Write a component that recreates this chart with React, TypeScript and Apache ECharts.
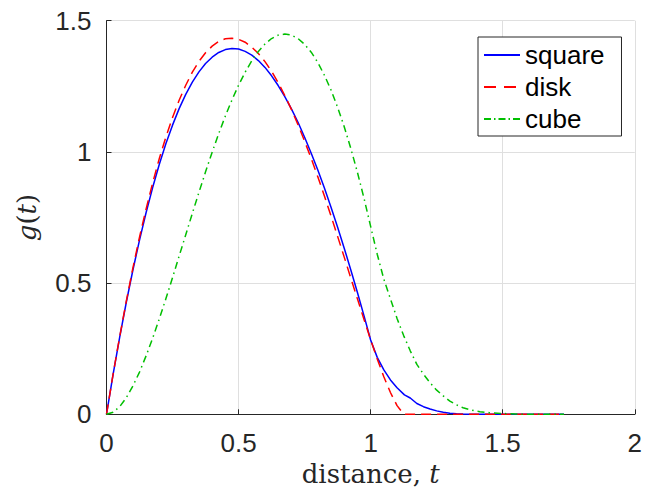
import React, { useEffect, useRef } from "react";
import * as echarts from "echarts";

const tValues = [
  0, 0.025, 0.05, 0.075, 0.1, 0.125, 0.15, 0.175, 0.2, 0.225, 0.25, 0.275, 0.3,
  0.325, 0.35, 0.375, 0.4, 0.425, 0.45, 0.475, 0.5, 0.525, 0.55, 0.575, 0.6,
  0.625, 0.65, 0.675, 0.7, 0.725, 0.75, 0.775, 0.8, 0.825, 0.85, 0.875, 0.9,
  0.925, 0.95, 0.975, 1.0, 1.025, 1.05, 1.075, 1.1, 1.125, 1.128, 1.15, 1.175,
  1.2, 1.225, 1.25, 1.275, 1.3, 1.325, 1.35, 1.375, 1.4, 1.414, 1.45, 1.5, 1.55,
  1.6, 1.65, 1.7, 1.732,
];

const squareValues = [
  0, 0.152, 0.294, 0.427, 0.55, 0.664, 0.769, 0.865, 0.953, 1.032, 1.102, 1.165,
  1.219, 1.266, 1.305, 1.337, 1.361, 1.379, 1.39, 1.394, 1.392, 1.383, 1.369,
  1.348, 1.322, 1.29, 1.253, 1.211, 1.164, 1.113, 1.056, 0.995, 0.931, 0.862,
  0.789, 0.713, 0.633, 0.55, 0.464, 0.375, 0.283, 0.217, 0.169, 0.131, 0.101,
  0.077, 0.074, 0.062, 0.041, 0.029, 0.02, 0.013, 0.008, 0.004, 0.002, 0.001,
  0.0003, 0, 0, 0, 0, 0, 0, 0, 0, 0,
];

const diskValues = [
  0, 0.153, 0.296, 0.431, 0.558, 0.675, 0.783, 0.883, 0.975, 1.057, 1.131, 1.197,
  1.254, 1.304, 1.345, 1.378, 1.403, 1.421, 1.431, 1.433, 1.429, 1.418, 1.399,
  1.375, 1.344, 1.307, 1.264, 1.215, 1.162, 1.104, 1.041, 0.975, 0.905, 0.832,
  0.756, 0.678, 0.599, 0.519, 0.44, 0.361, 0.284, 0.211, 0.143, 0.083, 0.033,
  0.0014, 0, 0, 0, 0, 0, 0, 0, 0, 0, 0, 0, 0, 0, 0, 0, 0, 0, 0, 0, 0,
];

const cubeValues = [
  0, 0.008, 0.029, 0.063, 0.108, 0.161, 0.223, 0.291, 0.364, 0.441, 0.521, 0.603,
  0.684, 0.766, 0.846, 0.924, 0.999, 1.07, 1.137, 1.198, 1.254, 1.304, 1.347,
  1.383, 1.411, 1.432, 1.445, 1.449, 1.445, 1.432, 1.41, 1.38, 1.341, 1.292,
  1.236, 1.17, 1.096, 1.013, 0.922, 0.823, 0.716, 0.61, 0.515, 0.44, 0.365, 0.3,
  0.293, 0.242, 0.19, 0.153, 0.12, 0.092, 0.07, 0.05, 0.036, 0.025, 0.018, 0.012,
  0.01, 0.006, 0.003, 0.001, 0, 0, 0, 0,
];

const xTicks = { min: 0, max: 2, interval: 0.5 };
const yTicks = { min: 0, max: 1.5, interval: 0.5 };

const seriesNames = ["square", "disk", "cube"];

const AXIS = "#262626";
const GRID = "#dfdfdf";
const SANS = "Liberation Sans, Arial, sans-serif";
const SERIF = "DejaVu Serif, serif";

export default function App() {
  const ref = useRef<HTMLDivElement>(null);

  useEffect(() => {
    if (!ref.current) return;
    const chart = echarts.init(ref.current, undefined, { renderer: "svg" });
    const pairs = (vals: number[]) => tValues.map((t, i) => [t, vals[i]]);

    const axisCommon = {
      type: "value" as const,
      axisLine: { show: true, lineStyle: { color: AXIS, width: 1 } },
      axisTick: { show: true, inside: true, length: 5, lineStyle: { color: AXIS } },
      splitLine: { show: true, lineStyle: { color: GRID, width: 1 } },
      axisLabel: { color: AXIS, fontSize: 26, fontFamily: SANS },
    };

    chart.setOption({
      animation: false,
      backgroundColor: "#ffffff",
      grid: { left: 106.5, right: 6.5, top: 20.7, bottom: 80.7, containLabel: false },
      legend: {
        orient: "vertical",
        left: 478,
        top: 37,
        data: [
          { name: seriesNames[0] },
          { name: seriesNames[1], lineStyle: { type: [12, 8] } },
          { name: seriesNames[2], lineStyle: { type: [7, 3, 1.5, 3] } },
        ],
        itemWidth: 36,
        itemHeight: 14,
        itemGap: 6,
        padding: [5, 17, 4, 5],
        borderColor: AXIS,
        borderWidth: 1,
        backgroundColor: "#ffffff",
        itemStyle: { opacity: 0 },
        textStyle: { fontSize: 26, fontFamily: SANS, color: "#000000" },
      },
      xAxis: {
        ...axisCommon,
        ...xTicks,
        axisLabel: { ...axisCommon.axisLabel, margin: 16 },
        name: "distance, {it|t}",
        nameLocation: "middle",
        nameGap: 45,
        nameTextStyle: {
          fontFamily: SERIF,
          fontSize: 26,
          color: AXIS,
          rich: {
            it: { fontFamily: SERIF, fontSize: 26, fontStyle: "italic", color: AXIS },
          },
        },
      },
      yAxis: {
        ...axisCommon,
        ...yTicks,
        axisLabel: { ...axisCommon.axisLabel, margin: 15 },
        name: "{it|g}{rm|(}{it|t}{rm|)}",
        nameLocation: "middle",
        nameGap: 67,
        nameTextStyle: {
          fontFamily: SERIF,
          fontSize: 26,
          color: AXIS,
          rich: {
            it: { fontFamily: SERIF, fontSize: 26, fontStyle: "italic", color: AXIS },
            rm: { fontFamily: SERIF, fontSize: 26, color: AXIS },
          },
        },
      },
      series: [
        {
          name: "square",
          type: "line",
          data: pairs(squareValues),
          symbol: "none",
          smooth: false,
          lineStyle: { color: "#0000ff", width: 1.5, type: "solid" },
          itemStyle: { color: "#0000ff" },
        },
        {
          name: "disk",
          type: "line",
          data: pairs(diskValues),
          symbol: "none",
          smooth: false,
          lineStyle: { color: "#ff0000", width: 1.5, type: [10, 6] },
          itemStyle: { color: "#ff0000" },
        },
        {
          name: "cube",
          type: "line",
          data: pairs(cubeValues),
          symbol: "none",
          smooth: false,
          lineStyle: { color: "#00bf00", width: 1.5, type: [7, 4, 1.5, 4] },
          itemStyle: { color: "#00bf00" },
        },
      ],
    });

    return () => chart.dispose();
  }, []);

  return (
    <div
      ref={ref}
      style={{ position: "fixed", left: 0, top: 0, width: 645, height: 495, background: "#fff" }}
    />
  );
}
